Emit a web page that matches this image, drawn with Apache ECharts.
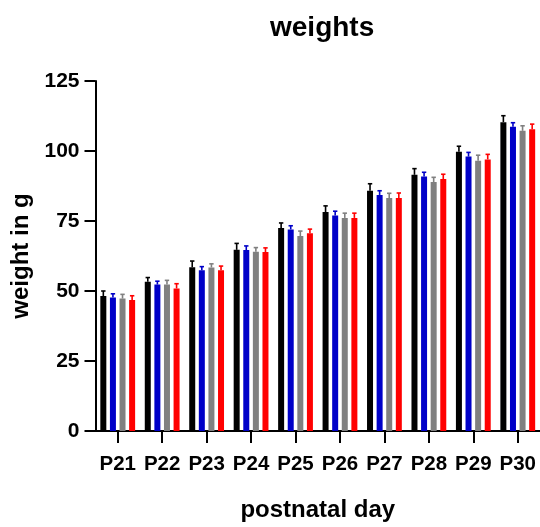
<!DOCTYPE html>
<html>
<head>
<meta charset="utf-8">
<script src="https://cdn.jsdelivr.net/npm/echarts@6/dist/echarts.min.js"></script>
<style>
html,body{margin:0;padding:0;background:#fff;}
#chart{width:540px;height:527px;}
</style>
</head>
<body>
<div id="chart"></div>
<script>
const categories = ['P21','P22','P23','P24','P25','P26','P27','P28','P29','P30'];
const yTicks = [0, 25, 50, 75, 100, 125];

const blackVals = [48.2, 53.3, 58.5, 64.7, 72.5, 78.2, 85.8, 91.5, 99.7, 110.3];
const blueVals  = [47.7, 52.3, 57.4, 64.6, 72.0, 77.0, 84.3, 90.9, 98.0, 108.7];
const grayVals  = [47.3, 52.3, 58.4, 64.0, 69.6, 76.1, 83.2, 88.9, 96.5, 107.2];
const redVals   = [46.8, 50.9, 57.4, 63.9, 70.6, 76.1, 83.2, 90.0, 97.0, 107.8];

const blackErr = [1.8, 1.5, 2.2, 2.3, 1.8, 2.2, 2.5, 2.2, 2.0, 2.3];
const blueErr  = [1.3, 1.2, 1.3, 1.5, 1.3, 1.5, 1.5, 1.5, 1.5, 1.4];
const grayErr  = [1.5, 1.5, 1.3, 1.5, 1.8, 1.7, 1.7, 1.7, 2.0, 1.8];
const redErr   = [1.5, 1.7, 1.5, 1.5, 1.5, 1.7, 1.8, 1.7, 1.8, 1.8];

const seriesNames = ['black', 'blue', 'gray', 'red'];
const colors = ['#000000', '#0000c8', '#808080', '#ff0000'];
const allVals = [blackVals, blueVals, grayVals, redVals];
const allErrs = [blackErr, blueErr, grayErr, redErr];

const BAR_W = 6;
const GAP_RATIO = 0.6;
const FONT = "'Liberation Sans', Arial, sans-serif";

const chart = echarts.init(document.getElementById('chart'), null, {renderer: 'canvas'});

const series = [];
allVals.forEach((vals, i) => {
  series.push({
    name: seriesNames[i],
    type: 'bar',
    data: vals,
    barWidth: BAR_W,
    barGap: (GAP_RATIO * 100) + '%',
    itemStyle: {color: colors[i]},
    z: 2
  });
});
allVals.forEach((vals, i) => {
  const n = allVals.length;
  const offset = (i - (n - 1) / 2) * BAR_W * (1 + GAP_RATIO);
  series.push({
    name: seriesNames[i] + '-err',
    type: 'custom',
    data: vals.map((v, k) => [k, v, allErrs[i][k]]),
    encode: {x: 0, y: 1},
    z: 3,
    renderItem: function (params, api) {
      const k = api.value(0);
      const v = api.value(1);
      const e = api.value(2);
      const base = api.coord([k, v]);
      const top = api.coord([k, v + e]);
      const x = base[0] + offset;
      const capHalf = 2.2;
      const st = {stroke: colors[i], lineWidth: 1.6};
      return {
        type: 'group',
        children: [
          {type: 'line', shape: {x1: x, y1: base[1], x2: x, y2: top[1]}, style: st},
          {type: 'line', shape: {x1: x - capHalf, y1: top[1], x2: x + capHalf, y2: top[1]}, style: st}
        ]
      };
    }
  });
});

chart.setOption({
  animation: false,
  backgroundColor: '#ffffff',
  title: {
    text: 'weights',
    left: 265,
    top: 9,
    textStyle: {fontFamily: FONT, fontWeight: 'bold', fontSize: 28, color: '#000'}
  },
  grid: {left: 95.5, right: 0, top: 81, bottom: 95, containLabel: false},
  xAxis: {
    type: 'category',
    data: categories,
    name: 'postnatal day',
    nameLocation: 'middle',
    nameGap: 67,
    nameTextStyle: {fontFamily: FONT, fontWeight: 'bold', fontSize: 24, color: '#000'},
    axisLine: {lineStyle: {color: '#000', width: 2}},
    axisTick: {show: true, alignWithLabel: true, length: 12, lineStyle: {color: '#000', width: 2}},
    axisLabel: {fontFamily: FONT, fontWeight: 'bold', fontSize: 20.5, color: '#000', margin: 23, interval: 0}
  },
  yAxis: {
    type: 'value',
    min: yTicks[0],
    max: yTicks[yTicks.length - 1],
    interval: 25,
    name: 'weight in g',
    nameLocation: 'middle',
    nameGap: 60,
    nameTextStyle: {fontFamily: FONT, fontWeight: 'bold', fontSize: 24, color: '#000'},
    splitLine: {show: false},
    axisLine: {show: true, lineStyle: {color: '#000', width: 2}},
    axisTick: {show: true, length: 11, lineStyle: {color: '#000', width: 2}},
    axisLabel: {fontFamily: FONT, fontWeight: 'bold', fontSize: 21, color: '#000', margin: 16}
  },
  series: series
});
</script>
</body>
</html>
